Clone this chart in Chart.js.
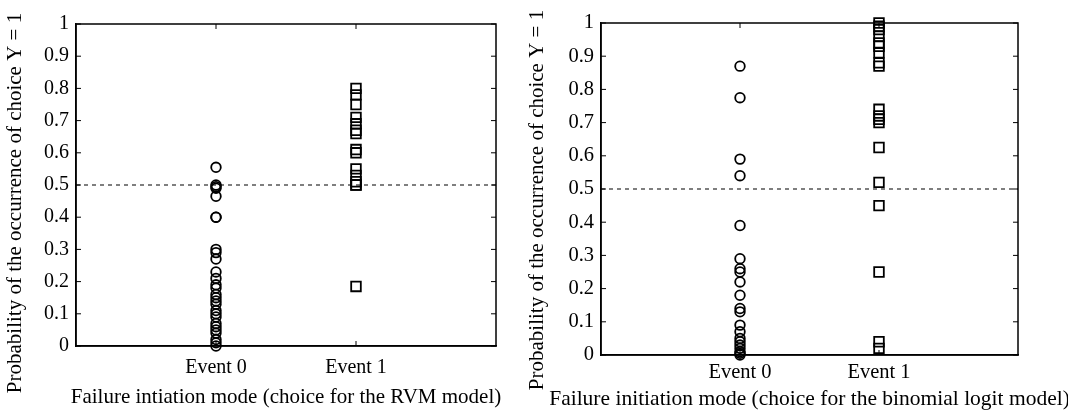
<!DOCTYPE html>
<html lang="en">
<head>
  <meta charset="UTF-8" />
  <title>Failure initiation mode probabilities</title>
  <script src="https://cdn.jsdelivr.net/npm/chart.js"></script>
  <style>
    html, body { margin: 0; padding: 0; background: #fff; }
    .wrap { position: relative; width: 1068px; height: 411px; }
    .panel { position: absolute; top: 0; height: 411px; }
    #left { left: 0; width: 534px; }
    #right { left: 520px; width: 548px; }
  </style>
</head>
<body>
  <div class="wrap">
    <div class="panel" id="left"><canvas id="chartRvm"></canvas></div>
    <div class="panel" id="right"><canvas id="chartLogit"></canvas></div>
  </div>

  <script>
    // data
    const categories = ["Event 0", "Event 1"];
    const yTickLabels = ["0", "0.1", "0.2", "0.3", "0.4", "0.5", "0.6", "0.7", "0.8", "0.9", "1"];
    const threshold = 0.5;

    const rvmEvent0 = [0.555, 0.50, 0.495, 0.49, 0.465, 0.40, 0.40, 0.30, 0.29, 0.27, 0.23, 0.21,
      0.19, 0.18, 0.16, 0.15, 0.14, 0.13, 0.11, 0.10, 0.09, 0.07, 0.06, 0.05, 0.04, 0.02, 0.01, 0.0];
    const rvmEvent1 = [0.80, 0.78, 0.75, 0.71, 0.69, 0.67, 0.66, 0.61, 0.60, 0.55, 0.53, 0.51, 0.50, 0.50, 0.185];

    const logitEvent0 = [0.87, 0.775, 0.59, 0.54, 0.39, 0.29, 0.26, 0.25, 0.22, 0.18, 0.14, 0.13,
      0.09, 0.07, 0.05, 0.04, 0.03, 0.02, 0.01, 0.005, 0.0];
    const logitEvent1 = [1.0, 0.99, 0.98, 0.96, 0.94, 0.93, 0.91, 0.88, 0.87, 0.74, 0.72, 0.71, 0.70,
      0.625, 0.52, 0.45, 0.25, 0.04, 0.02];

    const yTitle = "Probability of the occurrence of choice Y = 1";
    const FONT = "'Liberation Serif', 'Times New Roman', serif";

    // MATLAB style box + inward ticks, axis labels drawn here so they are not squeezed to the axis width
    const boxPlugin = {
      id: "box",
      afterDraw(chart, args, opts) {
        const { ctx, chartArea: a, scales } = chart;
        ctx.save();
        ctx.strokeStyle = "#000";
        ctx.lineWidth = 1.5;
        ctx.strokeRect(a.left, a.top, a.right - a.left, a.bottom - a.top);
        ctx.lineWidth = 1;
        ctx.beginPath();
        scales.y.ticks.forEach(t => {
          const py = scales.y.getPixelForValue(t.value);
          ctx.moveTo(a.left, py); ctx.lineTo(a.left + 5, py);
          ctx.moveTo(a.right, py); ctx.lineTo(a.right - 5, py);
        });
        scales.x.ticks.forEach(t => {
          const px = scales.x.getPixelForValue(t.value);
          ctx.moveTo(px, a.bottom); ctx.lineTo(px, a.bottom - 5);
          ctx.moveTo(px, a.top); ctx.lineTo(px, a.top + 5);
        });
        ctx.stroke();

        ctx.fillStyle = "#000";
        ctx.textAlign = "center";
        ctx.textBaseline = "middle";

        ctx.font = opts.xSize + "px " + FONT;
        ctx.fillText(opts.xText, (a.left + a.right) / 2, opts.xY);

        ctx.translate(opts.yX, opts.yY);
        ctx.rotate(-Math.PI / 2);
        ctx.font = opts.ySize + "px " + FONT;
        ctx.fillText(yTitle, 0, 0);
        ctx.restore();
      }
    };

    function makeChart(id, ev0, ev1, xTitle, L) {
      const points0 = ev0.map(v => ({ x: 1, y: v }));
      const points1 = ev1.map(v => ({ x: 2, y: v }));
      return new Chart(document.getElementById(id), {
        type: "scatter",
        data: {
          datasets: [
            {
              data: points0,
              pointStyle: "circle",
              pointRadius: 4.8,
              pointBorderWidth: 1.8,
              borderColor: "#000",
              backgroundColor: "rgba(0,0,0,0)",
              clip: false
            },
            {
              data: points1,
              pointStyle: "rect",
              pointRadius: 6.8,
              pointBorderWidth: 1.8,
              borderColor: "#000",
              backgroundColor: "rgba(0,0,0,0)",
              clip: false
            },
            {
              type: "line",
              data: [{ x: 0, y: threshold }, { x: 3, y: threshold }],
              borderColor: "#000",
              borderWidth: 1,
              borderDash: [4, 4],
              pointRadius: 0,
              fill: false
            }
          ]
        },
        options: {
          responsive: true,
          maintainAspectRatio: false,
          animation: false,
          events: [],
          layout: { padding: { top: L.top, right: L.right, left: 0, bottom: 0 } },
          plugins: {
            legend: { display: false },
            tooltip: { enabled: false },
            box: {
              xText: xTitle, xY: L.xTitleY, xSize: L.xTitleSize,
              yX: L.yTitleX, yY: L.yTitleY, ySize: L.yTitleSize
            }
          },
          scales: {
            x: {
              type: "linear",
              min: 0,
              max: 3,
              afterBuildTicks: s => { s.ticks = [{ value: 1 }, { value: 2 }]; },
              afterFit: s => { s.height = L.xHeight; },
              grid: { drawOnChartArea: false, drawTicks: false },
              border: { color: "#000", width: 1.5 },
              ticks: {
                color: "#000",
                padding: L.xPad,
                font: { family: FONT, size: L.tickSize },
                callback: v => categories[v - 1]
              }
            },
            y: {
              min: 0,
              max: 1,
              afterBuildTicks: s => { s.ticks = yTickLabels.map((l, i) => ({ value: i / 10 })); },
              afterFit: s => { s.width = L.yWidth; },
              grid: { drawOnChartArea: false, drawTicks: false },
              border: { color: "#000", width: 1.5 },
              ticks: {
                color: "#000",
                padding: 7,
                font: { family: FONT, size: L.tickSize },
                callback: (v, i) => yTickLabels[i]
              }
            }
          }
        },
        plugins: [boxPlugin]
      });
    }

    makeChart("chartRvm", rvmEvent0, rvmEvent1,
      "Failure intiation mode (choice for the RVM model)",
      { top: 24, right: 38, xHeight: 65, yWidth: 76, xPad: 10, tickSize: 20,
        xTitleSize: 21, xTitleY: 397, yTitleX: 15, yTitleY: 203, yTitleSize: 21 });

    makeChart("chartLogit", logitEvent0, logitEvent1,
      "Failure initiation mode (choice for the binomial logit model)",
      { top: 23, right: 50, xHeight: 56, yWidth: 81, xPad: 5, tickSize: 20.5,
        xTitleSize: 21.5, xTitleY: 399, yTitleX: 17, yTitleY: 200, yTitleSize: 21 });
  </script>
</body>
</html>
